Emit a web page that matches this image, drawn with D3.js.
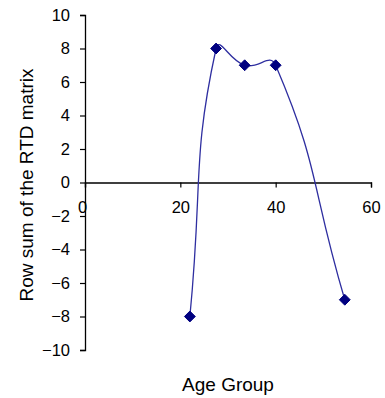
<!DOCTYPE html>
<html><head><meta charset="utf-8">
<script src="https://cdn.jsdelivr.net/npm/d3@7"></script>
<style>body{margin:0;background:#fff}svg{display:block}</style>
</head><body>
<svg id="c" width="385" height="398"></svg>
<script>
const ageGroups = [22, 27.5, 33.5, 40, 54.5];
const rowSums = [-8, 8, 7, 7, -7];
const xTicks = [0, 20, 40, 60];
const yTicks = [-10, -8, -6, -4, -2, 0, 2, 4, 6, 8, 10];
const xTitle = "Age Group";
const yTitle = "Row sum of the RTD matrix";

// Excel-like smoothed curve (length-weighted Bezier tangents)
function curveExcel(context) {
  let pts = [];
  return {
    areaStart() {}, areaEnd() {},
    lineStart() { pts = []; },
    point(x, y) { pts.push([+x, +y]); },
    lineEnd() {
      const n = pts.length;
      if (!n) return;
      context.moveTo(pts[0][0], pts[0][1]);
      const P = i => pts[Math.max(0, Math.min(n - 1, i))];
      const dist = (a, b) => Math.hypot(b[0] - a[0], b[1] - a[1]);
      const t = 0.5;
      for (let i = 0; i < n - 1; i++) {
        const p0 = P(i - 1), p1 = P(i), p2 = P(i + 1), p3 = P(i + 2);
        const dPrev = dist(p0, p1), d = dist(p1, p2), dNext = dist(p2, p3);
        const f1 = (dPrev + d) ? t * d / (dPrev + d) : 0;
        const f2 = (d + dNext) ? t * d / (d + dNext) : 0;
        const c1 = [p1[0] + (p2[0] - p0[0]) * f1, p1[1] + (p2[1] - p0[1]) * f1];
        const c2 = [p2[0] - (p3[0] - p1[0]) * f2, p2[1] - (p3[1] - p1[1]) * f2];
        context.bezierCurveTo(c1[0], c1[1], c2[0], c2[1], p2[0], p2[1]);
      }
    }
  };
}

const svg = d3.select("#c");
const font = "Liberation Sans, Arial, sans-serif";
const x = d3.scaleLinear().domain([0, 60]).range([85, 371]);
const y = d3.scaleLinear().domain([-10, 10]).range([350, 15]);

const yAxis = svg.append("g").attr("transform", `translate(${x(0)},0)`)
  .call(d3.axisLeft(y).tickValues(yTicks).tickSize(5).tickPadding(10).tickFormat(d3.format("d")));
const xAxis = svg.append("g").attr("transform", `translate(0,${y(0)})`)
  .call(d3.axisBottom(x).tickValues(xTicks).tickSize(5).tickPadding(14).tickFormat(d3.format("d")));

[yAxis, xAxis].forEach(g => {
  g.select(".domain").attr("stroke", "#000").attr("stroke-width", 1.3);
  g.selectAll(".tick line").attr("stroke", "#000").attr("stroke-width", 1.2);
  g.selectAll("text").attr("font-family", font).attr("font-size", 16.5).attr("fill", "#000");
});
xAxis.selectAll(".tick").filter(d => d === 0).select("text").attr("dx", -3);

const line = d3.line().x((d, i) => x(ageGroups[i])).y(d => y(d)).curve(curveExcel);
svg.append("path").datum(rowSums).attr("d", line)
  .attr("fill", "none").attr("stroke", "#2e2ea0").attr("stroke-width", 1.3);

svg.selectAll(".m").data(rowSums).enter().append("path")
  .attr("class", "m")
  .attr("transform", (d, i) => `translate(${x(ageGroups[i])},${y(d)})`)
  .attr("d", d3.symbol().type(d3.symbolDiamond2).size(75))
  .attr("fill", "#000080").attr("stroke", "#000080").attr("stroke-width", 1);

svg.append("text").attr("x", 228).attr("y", 391).attr("text-anchor", "middle")
  .attr("font-family", font).attr("font-size", 19).text(xTitle);
svg.append("text").attr("transform", "translate(33,185) rotate(-90)").attr("text-anchor", "middle")
  .attr("font-family", font).attr("font-size", 19).text(yTitle);
</script>
</body></html>
